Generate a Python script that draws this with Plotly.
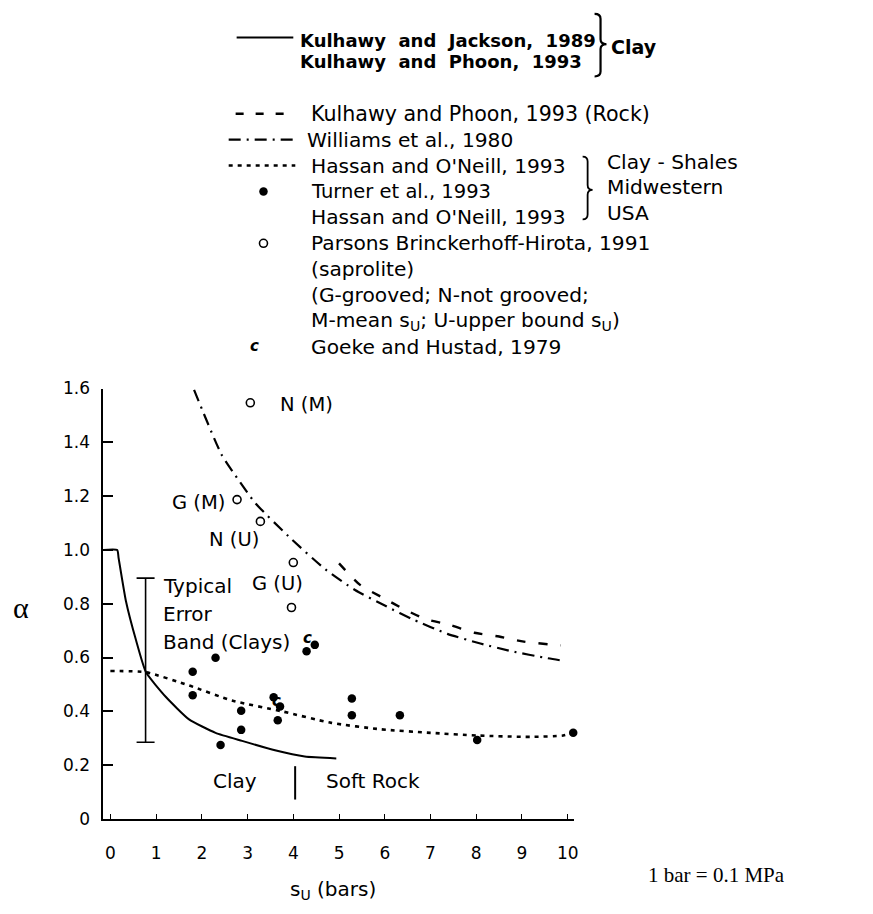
import plotly.graph_objects as go

W, H = 873, 914
FONT = "DejaVu Sans"

# Kulhawy and Jackson (1989) / Kulhawy and Phoon (1993), clay
kj_su = [-0.15, 0.15, 0.18, 0.34, 0.56, 0.78, 1.21, 1.72, 2.30, 2.88, 3.60, 4.25, 4.94]
kj_alpha = [1.00, 1.00, 0.97, 0.81, 0.665, 0.545, 0.454, 0.37, 0.32, 0.29, 0.255, 0.232, 0.225]

# Hassan and O'Neill (1993)
ho_su = [0.0, 0.78, 1.72, 2.66, 3.75, 4.83, 5.92, 7.00, 8.02, 9.18, 9.90, 10.12]
ho_alpha = [0.55, 0.545, 0.496, 0.44, 0.40, 0.357, 0.333, 0.32, 0.31, 0.305, 0.31, 0.32]

# Williams et al. (1980)
wi_su = [1.83, 2.43, 2.74, 3.17, 3.96, 4.70, 5.35, 6.00, 6.65, 7.37, 8.09, 8.78, 9.54, 9.93]
wi_alpha = [1.595, 1.355, 1.275, 1.174, 1.04, 0.928, 0.851, 0.793, 0.739, 0.688, 0.652, 0.623, 0.598, 0.587]

# Kulhawy and Phoon (1993), rock
kp_su = [5.00, 5.46, 5.96, 6.43, 6.89, 7.43, 7.96, 8.50, 9.04, 9.85]
kp_alpha = [0.95, 0.870, 0.822, 0.779, 0.743, 0.721, 0.692, 0.678, 0.659, 0.645]

# Turner et al. (1993) and Hassan and O'Neill (1993) load tests
tu_su = [1.80, 1.80, 2.30, 2.41, 2.86, 2.86, 3.57, 3.66, 3.71, 4.29, 4.47, 5.28, 5.28, 6.33, 8.02, 10.12]
tu_alpha = [0.547, 0.46, 0.599, 0.275, 0.402, 0.331, 0.452, 0.367, 0.418, 0.623, 0.647, 0.448, 0.385, 0.385, 0.293, 0.32]

# Parsons Brinckerhoff-Hirota (1991), saprolite
pb_su = [3.06, 2.77, 3.28, 4.00, 3.96]
pb_alpha = [1.547, 1.187, 1.106, 0.953, 0.786]
pb_labels = ["N (M)", "G (M)", "N (U)", "G (U)"]

# Goeke and Hustad (1979)
gh_su = [4.31, 3.63]
gh_alpha = [0.668, 0.432]

# Typical error band for clays
eb_su = [0.77]
eb_mid = [0.545]
eb_top = [0.895]
eb_bottom = [0.285]

# Clay / soft rock boundary
boundary_su = 4.04
boundary_alpha = [0.072, 0.196]

x_ticks = [0, 1, 2, 3, 4, 5, 6, 7, 8, 9, 10]
x_tick_labels = ["0", "1", "2", "3", "4", "5", "6", "7", "8", "9", "10"]
y_ticks = [0, 0.2, 0.4, 0.6, 0.8, 1.0, 1.2, 1.4, 1.6]
y_tick_labels = ["0", "0.2", "0.4", "0.6", "0.8", "1.0", "1.2", "1.4", "1.6"]

# plot frame in page pixels
PL, PR, PT, PB = 104, 577, 387, 827
X0PX, XSCALE = 111, 46.0

fig = go.Figure()

fig.add_trace(go.Scatter(x=kj_su, y=kj_alpha, mode="lines",
                         line=dict(color="black", width=2, shape="spline", smoothing=0.5),
                         cliponaxis=False, showlegend=False))
fig.add_trace(go.Scatter(x=ho_su, y=ho_alpha, mode="lines",
                         line=dict(color="black", width=2.6, dash="4px,5px", shape="spline", smoothing=0.6),
                         cliponaxis=False, showlegend=False))
fig.add_trace(go.Scatter(x=wi_su, y=wi_alpha, mode="lines",
                         line=dict(color="black", width=2.2, dash="12px,6px,2px,6px", shape="spline", smoothing=0.6),
                         cliponaxis=False, showlegend=False))
fig.add_trace(go.Scatter(x=kp_su, y=kp_alpha, mode="lines",
                         line=dict(color="black", width=2.4, dash="9px,13px", shape="spline", smoothing=0.6),
                         cliponaxis=False, showlegend=False))

# error band
fig.add_trace(go.Scatter(x=eb_su, y=eb_mid, mode="markers",
                         marker=dict(size=1, color="rgba(0,0,0,0)"),
                         error_y=dict(type="data", symmetric=False,
                                      array=[eb_top[0] - eb_mid[0]],
                                      arrayminus=[eb_mid[0] - eb_bottom[0]],
                                      color="black", thickness=1.6, width=9),
                         cliponaxis=False, showlegend=False))

fig.add_trace(go.Scatter(x=tu_su, y=tu_alpha, mode="markers",
                         marker=dict(symbol="circle", size=8.5, color="black"),
                         cliponaxis=False, showlegend=False))
fig.add_trace(go.Scatter(x=pb_su, y=pb_alpha, mode="markers",
                         marker=dict(symbol="circle-open", size=8, color="black", line=dict(width=1.6)),
                         cliponaxis=False, showlegend=False))
fig.add_trace(go.Scatter(x=gh_su, y=gh_alpha, mode="text", text=["c"] * len(gh_su),
                         textfont=dict(family=FONT, size=15, color="black", weight="bold", style="italic"),
                         cliponaxis=False, showlegend=False))

# overlay subplot in page pixels for the hand-drawn key
fig.add_trace(go.Scatter(x=[265], y=[185.5], xaxis="x2", yaxis="y2", mode="markers",
                         marker=dict(symbol="circle", size=8.5, color="black"), showlegend=False))
fig.add_trace(go.Scatter(x=[265], y=[238.5], xaxis="x2", yaxis="y2", mode="markers",
                         marker=dict(symbol="circle-open", size=8, color="black", line=dict(width=1.6)),
                         showlegend=False))
fig.add_trace(go.Scatter(x=[256], y=[344.5], xaxis="x2", yaxis="y2", mode="text", text=["c"],
                         textfont=dict(family=FONT, size=15, color="black", weight="bold", style="italic"),
                         showlegend=False))

shapes = []


def key_line(x0, x1, y, dash, width):
    shapes.append(dict(type="line", xref="x2", yref="y2", x0=x0, x1=x1, y0=y, y1=y,
                       line=dict(color="black", width=width, dash=dash)))


def brace(x0, w, top, bottom, mid, width=2):
    r = 5
    xm = x0 + w / 2
    path = (f"M {x0},{top} Q {xm},{top} {xm},{top + r} L {xm},{mid - r} "
            f"Q {xm},{mid} {x0 + w},{mid} Q {xm},{mid} {xm},{mid + r} "
            f"L {xm},{bottom - r} Q {xm},{bottom} {x0},{bottom}")
    shapes.append(dict(type="path", xref="x2", yref="y2", path=path,
                       line=dict(color="black", width=width)))


key_line(238, 295, 28, "solid", 2)
key_line(237, 287, 106, "8px,12px", 2.4)
key_line(230, 297, 132.5, "12px,6px,2px,6px", 2.2)
key_line(230, 297, 159, "4px,5px", 2.6)
brace(598, 12, 4, 68, 35, 2.2)
brace(586, 10, 150, 214, 184, 1.8)

# clay / soft rock divider
shapes.append(dict(type="line", xref="x", yref="y", x0=boundary_su, x1=boundary_su,
                   y0=boundary_alpha[0], y1=boundary_alpha[1], line=dict(color="black", width=2)))

annotations = []


def key_text(x, y, text, size=20.2, bold=False, anchor="left", family=FONT):
    annotations.append(dict(x=x, y=y, xref="x2", yref="y2", text=text, showarrow=False,
                            xanchor=anchor, yanchor="middle",
                            font=dict(family=family, size=size, color="black",
                                      weight="bold" if bold else "normal")))


key_text(300, 31, "Kulhawy  and  Jackson,  1989", size=18, bold=True)
key_text(300, 53, "Kulhawy  and  Phoon,  1993", size=18, bold=True)
key_text(613, 38, "Clay", size=19, bold=True)
key_text(311, 106, "Kulhawy and Phoon, 1993 (Rock)", size=20.6)
key_text(307, 132.5, "Williams et al., 1980")
key_text(311, 159, "Hassan and O'Neill, 1993")
key_text(311, 185.5, "Turner et al., 1993", size=19.5)
key_text(311, 212, "Hassan and O'Neill, 1993")
key_text(311, 238.5, "Parsons Brinckerhoff-Hirota, 1991")
key_text(311, 265, "(saprolite)")
key_text(311, 291.5, "(G-grooved; N-not grooved;")
key_text(311, 318, "M-mean s<sub>U</sub>; U-upper bound s<sub>U</sub>)")
key_text(311, 344.5, "Goeke and Hustad, 1979")
key_text(608, 155, "Clay - Shales")
key_text(608, 181, "Midwestern")
key_text(608, 208, "USA")

key_text(335, 900, "s<sub>U</sub> (bars)", size=20, anchor="center")
key_text(21, 611, "α", size=30, anchor="center", family="Liberation Serif")
key_text(650, 884, "1 bar = 0.1 MPa", size=21, family="Liberation Serif")


def plot_text(x, y, text, anchor="left", size=19.5):
    annotations.append(dict(x=x, y=y, xref="x", yref="y", text=text, showarrow=False,
                            xanchor=anchor, yanchor="middle",
                            font=dict(family=FONT, size=size, color="black")))


plot_text(3.67, 1.54, pb_labels[0])
plot_text(2.54, 1.178, pb_labels[1], anchor="right")
plot_text(3.30, 1.04, pb_labels[2], anchor="right")
plot_text(3.06, 0.877, pb_labels[3])
plot_text(1.10, 0.865, "Typical", size=20)
plot_text(1.10, 0.761, "Error", size=20)
plot_text(1.10, 0.659, "Band (Clays)", size=20)
plot_text(2.73, 0.14, "Clay", anchor="center", size=20)
plot_text(5.74, 0.14, "Soft Rock", anchor="center", size=20)

fig.update_layout(
    width=W, height=H,
    margin=dict(l=0, r=0, t=0, b=0, pad=0),
    paper_bgcolor="white", plot_bgcolor="rgba(0,0,0,0)",
    showlegend=False,
    shapes=shapes, annotations=annotations,
    xaxis=dict(domain=[PL / W, PR / W],
               range=[(PL - X0PX) / XSCALE, (PR - X0PX) / XSCALE],
               tickvals=x_ticks, ticktext=x_tick_labels,
               ticks="inside", ticklen=5, tickwidth=1.3, tickcolor="black",
               showline=True, linecolor="black", linewidth=2,
               showgrid=False, zeroline=False, fixedrange=True,
               tickfont=dict(family=FONT, size=17, color="black"),
               ticklabelstandoff=18),
    yaxis=dict(domain=[(H - PB) / H, (H - PT) / H], range=[0, 1.6],
               tickvals=y_ticks, ticktext=y_tick_labels,
               ticks="inside", ticklen=10, tickwidth=1.6, tickcolor="black",
               showline=True, linecolor="black", linewidth=1.8,
               showgrid=False, zeroline=False, fixedrange=True,
               tickfont=dict(family=FONT, size=17, color="black"),
               ticklabelstandoff=8),
    xaxis2=dict(domain=[0, 1], range=[0, W], visible=False, fixedrange=True, anchor="y2"),
    yaxis2=dict(domain=[0, 1], range=[H, 0], visible=False, fixedrange=True, anchor="x2"),
)

fig.write_html("out.html")
